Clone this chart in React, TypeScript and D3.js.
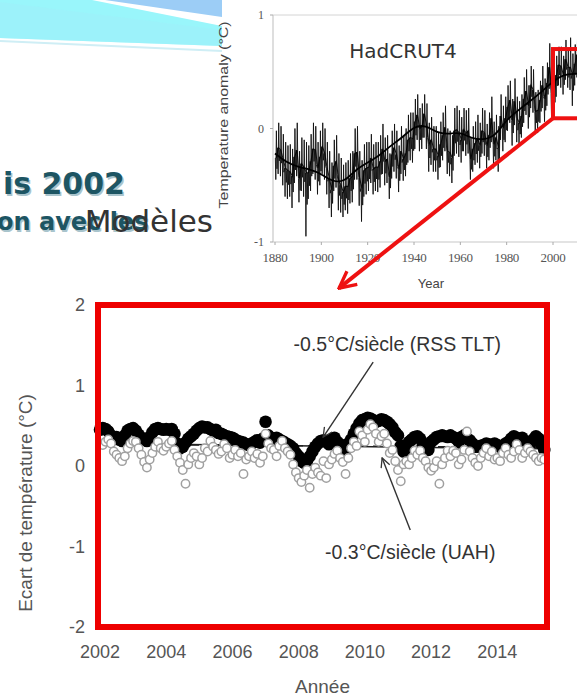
import React from "react";
import * as d3 from "d3";

// ---------- Main chart data (monthly, Jan 2002 – Jun 2015) ----------
const START_YEAR = 2002;
const rssMonthly = [
  0.45, 0.47, 0.46, 0.43, 0.38, 0.34, 0.36, 0.33, 0.31, 0.38, 0.44, 0.46,
  0.47, 0.44, 0.39, 0.35, 0.33, 0.31, 0.36, 0.42, 0.46, 0.47, 0.46, 0.45,
  0.46, 0.45, 0.46, 0.40, 0.28, 0.22, 0.24, 0.29, 0.34, 0.37, 0.40, 0.44,
  0.47, 0.49, 0.48, 0.48, 0.46, 0.44, 0.45, 0.41, 0.40, 0.38, 0.37, 0.36,
  0.35, 0.33, 0.31, 0.30, 0.29, 0.27, 0.26, 0.28, 0.30, 0.32, 0.29, 0.34,
  0.55, 0.38, 0.35, 0.33, 0.35, 0.33, 0.31, 0.29, 0.27, 0.25, 0.22, 0.16,
  0.12, 0.06, 0.04, 0.06, 0.12, 0.18, 0.24, 0.28, 0.31, 0.32, 0.30, 0.27,
  0.33, 0.35, 0.30, 0.27, 0.24, 0.20, 0.28, 0.33, 0.40, 0.47, 0.53, 0.57,
  0.58, 0.60, 0.59, 0.57, 0.55, 0.56, 0.58, 0.57, 0.55, 0.52, 0.48, 0.42,
  0.38, 0.25, 0.18, 0.22, 0.30, 0.33, 0.36, 0.37, 0.34, 0.25, 0.22, 0.20,
  0.30, 0.33, 0.36, 0.37, 0.38, 0.37, 0.36, 0.38, 0.36, 0.34, 0.30, 0.36,
  0.38, 0.34, 0.32, 0.28, 0.24, 0.24, 0.25, 0.26, 0.28, 0.27, 0.26, 0.28,
  0.26, 0.24, 0.25, 0.28, 0.30, 0.34, 0.37, 0.35, 0.33, 0.35, 0.30, 0.27,
  0.28, 0.33, 0.37, 0.34, 0.27, 0.20,
];
const uahMonthly = [
  0.28, 0.26, 0.30, 0.33, 0.28, 0.18, 0.14, 0.10, 0.06, 0.12, 0.22, 0.28,
  0.31, 0.30, 0.22, 0.14, 0.05, -0.02, 0.08, 0.16, 0.24, 0.30, 0.22, 0.19,
  0.24, 0.28, 0.31, 0.20, 0.12, 0.04, -0.05, -0.22, 0.02, 0.10, 0.16, 0.12,
  0.02, 0.10, 0.22, 0.18, 0.31, 0.24, 0.20, 0.15, 0.18, 0.27, 0.22, 0.10,
  0.14, 0.20, 0.12, 0.16, -0.10, 0.08, 0.12, 0.18, 0.10, 0.15, 0.04, 0.12,
  0.40, 0.28, 0.22, 0.20, 0.12, 0.25, 0.31, 0.22, 0.18, 0.14, 0.02, -0.08,
  -0.15, -0.20, -0.12, -0.05, -0.27, -0.10, -0.02, -0.08, -0.12, 0.06, -0.15, 0.02,
  0.08, 0.15, 0.19, 0.10, 0.05, -0.10, 0.10, 0.22, 0.30, 0.25, 0.43, 0.38,
  0.30, 0.45, 0.52, 0.48, 0.40, 0.30, 0.37, 0.40, 0.28, 0.16, 0.20, 0.06,
  -0.05, -0.19, 0.02, 0.06, 0.02, 0.10, 0.19, 0.14, 0.19, 0.10, 0.06, -0.02,
  -0.06, -0.02, 0.06, -0.22, 0.02, 0.10, 0.19, 0.12, 0.19, 0.16, 0.02, 0.08,
  0.20, 0.43, 0.18, 0.10, 0.04, 0.00, 0.10, 0.16, 0.22, 0.12, 0.18, 0.08,
  0.10, 0.06, 0.16, 0.22, 0.14, 0.10, 0.18, 0.27, 0.20, 0.10, 0.16, 0.22,
  0.18, 0.14, 0.10, 0.06, 0.10, 0.08,
];
const trendYears = [2002, 2015.5];
const rssTrend = [0.28, 0.213];
const uahTrend = [0.27, 0.23];
const xTickYears = [2002, 2004, 2006, 2008, 2010, 2012, 2014];
const yTickValues = [2, 1, 0, -1, -2];
const rssLabel = "-0.5°C/siècle (RSS TLT)";
const uahLabel = "-0.3°C/siècle (UAH)";
const xTitle = "Année";
const yTitle = "Ecart de température (°C)";

// ---------- Inset HadCRUT4 data (annual, 1880–2015) ----------
const HAD_START = 1880;
const hadMean = [
  -0.26, -0.17, -0.19, -0.27, -0.35, -0.37, -0.38, -0.42, -0.25, -0.19,
  -0.44, -0.31, -0.34, -0.39, -0.39, -0.29, -0.18, -0.19, -0.35, -0.25,
  -0.16, -0.22, -0.35, -0.44, -0.54, -0.33, -0.29, -0.46, -0.50, -0.56,
  -0.51, -0.51, -0.44, -0.42, -0.22, -0.21, -0.43, -0.53, -0.37, -0.35,
  -0.34, -0.26, -0.36, -0.34, -0.34, -0.29, -0.18, -0.29, -0.27, -0.43,
  -0.23, -0.17, -0.23, -0.36, -0.20, -0.27, -0.22, -0.10, -0.08, -0.09,
  0.06, 0.12, 0.00, 0.02, 0.13, 0.02, -0.14, -0.10, -0.18, -0.18,
  -0.24, -0.14, -0.06, 0.01, -0.20, -0.21, -0.26, -0.02, -0.01, -0.04,
  -0.10, -0.01, -0.04, -0.02, -0.27, -0.18, -0.13, -0.09, -0.15, -0.02,
  -0.04, -0.15, -0.06, 0.09, -0.14, -0.08, -0.17, 0.11, 0.00, 0.09,
  0.19, 0.25, 0.07, 0.24, 0.09, 0.05, 0.11, 0.26, 0.33, 0.20,
  0.38, 0.34, 0.15, 0.16, 0.25, 0.38, 0.26, 0.40, 0.54, 0.31,
  0.32, 0.47, 0.56, 0.55, 0.47, 0.61, 0.54, 0.54, 0.47, 0.57,
  0.65, 0.51, 0.55, 0.57, 0.61, 0.75,
];
const hadLow = [
  -0.45, -0.40, -0.42, -0.50, -0.60, -0.62, -0.60, -0.70, -0.48, -0.42,
  -0.65, -0.55, -0.60, -0.95, -0.62, -0.55, -0.40, -0.45, -0.58, -0.50,
  -0.40, -0.45, -0.58, -0.70, -0.78, -0.55, -0.52, -0.72, -0.74, -0.78,
  -0.72, -0.75, -0.66, -0.65, -0.45, -0.45, -0.68, -0.82, -0.60, -0.58,
  -0.55, -0.48, -0.58, -0.55, -0.56, -0.52, -0.40, -0.50, -0.48, -0.62,
  -0.44, -0.38, -0.44, -0.56, -0.40, -0.46, -0.42, -0.30, -0.28, -0.30,
  -0.18, -0.10, -0.20, -0.18, -0.08, -0.18, -0.38, -0.32, -0.38, -0.38,
  -0.45, -0.34, -0.28, -0.20, -0.40, -0.42, -0.48, -0.24, -0.22, -0.25,
  -0.30, -0.20, -0.24, -0.22, -0.45, -0.38, -0.32, -0.30, -0.35, -0.22,
  -0.24, -0.35, -0.28, -0.12, -0.35, -0.28, -0.38, -0.10, -0.20, -0.12,
  -0.02, 0.05, -0.15, 0.03, -0.12, -0.15, -0.08, 0.05, 0.12, 0.00,
  0.18, 0.14, -0.05, -0.04, 0.05, 0.18, 0.06, 0.20, 0.35, 0.12,
  0.14, 0.28, 0.38, 0.36, 0.30, 0.43, 0.36, 0.34, 0.20, 0.38,
  0.45, 0.32, 0.36, 0.40, 0.44, 0.55,
];
const hadHigh = [
  -0.02, 0.05, 0.02, -0.05, -0.12, -0.15, -0.14, -0.18, 0.00, 0.05,
  -0.20, -0.08, -0.10, -0.12, -0.15, -0.05, 0.05, 0.02, -0.12, -0.02,
  0.05, 0.00, -0.12, -0.20, -0.30, -0.10, -0.06, -0.22, -0.26, -0.32,
  -0.30, -0.28, -0.22, -0.20, 0.00, 0.02, -0.20, -0.28, -0.14, -0.12,
  -0.12, -0.05, -0.14, -0.12, -0.12, -0.06, 0.04, -0.08, -0.06, -0.22,
  -0.02, 0.04, -0.02, -0.15, 0.02, -0.06, 0.00, 0.12, 0.14, 0.14,
  0.26, 0.30, 0.18, 0.22, 0.30, 0.22, 0.05, 0.10, 0.02, 0.02,
  -0.04, 0.06, 0.14, 0.20, 0.00, -0.02, -0.06, 0.18, 0.20, 0.16,
  0.10, 0.18, 0.16, 0.18, -0.08, 0.02, 0.06, 0.12, 0.05, 0.18,
  0.16, 0.04, 0.14, 0.28, 0.06, 0.12, 0.02, 0.30, 0.20, 0.28,
  0.38, 0.42, 0.26, 0.44, 0.28, 0.24, 0.30, 0.45, 0.52, 0.38,
  0.55, 0.52, 0.32, 0.34, 0.42, 0.55, 0.44, 0.58, 0.75, 0.50,
  0.50, 0.64, 0.72, 0.72, 0.64, 0.78, 0.70, 0.80, 0.66, 0.74,
  0.82, 0.68, 0.72, 0.74, 0.78, 0.90,
];
const hadSmoothYears = [
  1880, 1885, 1890, 1895, 1900, 1905, 1910, 1915, 1920, 1925, 1930, 1935, 1940, 1945,
  1950, 1955, 1960, 1965, 1970, 1975, 1980, 1985, 1990, 1995, 2000, 2005, 2010, 2015,
];
const hadSmooth = [
  -0.22, -0.3, -0.34, -0.36, -0.4, -0.47, -0.47, -0.36, -0.3, -0.24, -0.15, -0.08, 0.02, 0.03,
  -0.04, -0.05, -0.03, -0.09, -0.1, -0.07, 0.08, 0.16, 0.24, 0.32, 0.42, 0.48, 0.48, 0.5,
];
const hadXTicks = [1880, 1900, 1920, 1940, 1960, 1980, 2000];
const hadYTicks = [1, 0, -1];
const hadZoomBox = { x0: 2000, x1: 2020, y0: 0.09, y1: 0.7 };

const SANS = "'Liberation Sans', Arial, sans-serif";
const DEJAVU = "'DejaVu Sans', Verdana, sans-serif";
const SERIF = "'Liberation Serif', 'DejaVu Serif', serif";

export default function App() {
  // main chart scales
  const x = d3.scaleLinear().domain([2001.94, 2015.5]).range([98, 547]);
  const y = d3.scaleLinear().domain([-2, 2]).range([627, 305]);
  const monthX = (i: number) => x(START_YEAR + i / 12);

  // inset scales
  const hx = d3.scaleLinear().domain([1880, 2000]).range([275, 553]);
  const hy = d3.scaleLinear().domain([-1, 1]).range([242, 15]);

  const zig: [number, number][] = [];
  hadLow.forEach((lo, i) => {
    const yr = HAD_START + i;
    zig.push([hx(yr + 0.15), hy(hadMean[i])]);
    zig.push([hx(yr + 0.35), hy(lo)]);
    zig.push([hx(yr + 0.6), hy(hadHigh[i])]);
    zig.push([hx(yr + 0.85), hy((hadMean[i] + lo) / 2)]);
  });
  const line = d3.line();
  const meanLine = d3.line<number>().x((_, i) => hx(HAD_START + i + 0.5)).y((d) => hy(d));
  const smoothLine = d3
    .line<number>()
    .x((_, i) => hx(hadSmoothYears[i]))
    .y((d) => hy(d))
    .curve(d3.curveBasis);

  const boxX = hx(hadZoomBox.x0);
  const boxY = hy(hadZoomBox.y1);
  const boxBottom = hy(hadZoomBox.y0);

  // red arrow tip in main-chart coordinates
  const redTip: [number, number] = [x(2009.22), y(2.21)];

  return (
    <svg
      width={577}
      height={698}
      style={{ position: "absolute", left: 0, top: 0, background: "#fff" }}
    >
      <defs>
        <marker id="ah" viewBox="0 0 12 12" refX="11" refY="6" markerWidth="11" markerHeight="11" orient="auto" markerUnits="userSpaceOnUse">
          <path d="M1,1 L11,6 L1,11" fill="none" stroke="#333" strokeWidth={1.4} />
        </marker>
        <marker id="ahr" viewBox="0 0 12 12" refX="11" refY="6" markerWidth="20" markerHeight="20" orient="auto" markerUnits="userSpaceOnUse">
          <path d="M1,1 L11,6 L1,11" fill="none" stroke="#ee1111" strokeWidth={2} />
        </marker>
        <clipPath id="insetClip">
          <rect x={273} y={0} width={304} height={300} />
        </clipPath>
      </defs>

      {/* slide decoration */}
      <polygon points="105,0 222,0 222,17" fill="#9ccdf6" />
      <polygon points="0,0 92,0 222,26 222,46 0,38" fill="#99f6fb" />
      <polygon points="0,2 222,30 222,46 0,38" fill="#9ff0fa" opacity={0.6} />
      <line x1={0} y1={41} x2={222} y2={51} stroke="#cfeef5" strokeWidth={2} />

      <text x={126.5} y={195.5} textAnchor="end" fontFamily={DEJAVU} fontWeight="bold" fontSize={30} fill="#a9c4cc">is 2002</text>
      <text x={125} y={194} textAnchor="end" fontFamily={DEJAVU} fontWeight="bold" fontSize={30} fill="#1d5563">is 2002</text>
      <text x={-1.5} y={231.5} fontFamily={DEJAVU} fontWeight="bold" fontSize={24} fill="#a9c4cc">on avec les</text>
      <text x={-3} y={230} fontFamily={DEJAVU} fontWeight="bold" fontSize={24} fill="#1d5563">on avec les</text>
      <text x={213} y={232} textAnchor="end" fontFamily={DEJAVU} fontSize={31} fill="#333">Modèles</text>

      {/* inset HadCRUT4 */}
      <rect x={222} y={0} width={355} height={298} fill="#fff" />
      <line x1={273} y1={15} x2={577} y2={15} stroke="#d4d4d4" strokeWidth={1} />
      <line x1={273} y1={15} x2={273} y2={242} stroke="#c8c8c8" strokeWidth={1.2} />
      <line x1={273} y1={242} x2={577} y2={242} stroke="#c8c8c8" strokeWidth={1.2} />
      {hadXTicks.map((t) => (
        <g key={t}>
          <line x1={hx(t)} x2={hx(t)} y1={242} y2={245} stroke="#aaa" />
          <text x={hx(t)} y={262} textAnchor="middle" fontFamily={SERIF} fontSize={13} fill="#555" letterSpacing={-0.3}>{t}</text>
        </g>
      ))}
      {hadYTicks.map((t) => (
        <g key={t}>
          <line x1={270} x2={273} y1={hy(t)} y2={hy(t)} stroke="#aaa" />
          <text x={264} y={hy(t) + 4} textAnchor="end" fontFamily={SERIF} fontSize={12} fill="#555">{t}</text>
        </g>
      ))}
      <text
        transform={`translate(228,${hy(0.12)}) rotate(-90)`}
        textAnchor="middle"
        fontFamily={SANS}
        fontSize={12}
        textLength={187}
        lengthAdjust="spacingAndGlyphs"
        fill="#444"
      >
        Temperature anomaly (°C)
      </text>
      <text x={431} y={288} textAnchor="middle" fontFamily={SANS} fontSize={13} fill="#444">Year</text>
      <text x={403} y={58} textAnchor="middle" fontFamily={DEJAVU} fontSize={20} fill="#333">HadCRUT4</text>
      <g clipPath="url(#insetClip)">
        <path d={line(zig) || ""} fill="none" stroke="#111" strokeWidth={1} opacity={0.9} />
        <path d={meanLine(hadMean) || ""} fill="none" stroke="#000" strokeWidth={1.1} opacity={0.85} />
        <path d={smoothLine(hadSmooth) || ""} fill="none" stroke="#000" strokeWidth={1.8} />
      </g>
      <rect x={boxX} y={boxY} width={60} height={boxBottom - boxY} fill="none" stroke="#ee1111" strokeWidth={4} />
      <line x1={boxX} y1={boxBottom} x2={redTip[0]} y2={redTip[1]} stroke="#ee1111" strokeWidth={4} markerEnd="url(#ahr)" />

      {/* main chart: trend lines */}
      <line x1={x(trendYears[0])} y1={y(rssTrend[0])} x2={x(trendYears[1])} y2={y(rssTrend[1])} stroke="#222" strokeWidth={1.5} />
      <line x1={x(trendYears[0])} y1={y(uahTrend[0])} x2={x(trendYears[1])} y2={y(uahTrend[1])} stroke="#222" strokeWidth={1.5} strokeDasharray="8,5" />

      {/* RSS filled circles */}
      {rssMonthly.map((v, i) => (
        <circle key={"r" + i} cx={monthX(i)} cy={y(v)} r={6.3} fill="#000" />
      ))}
      {/* UAH open circles */}
      {uahMonthly.map((v, i) => (
        <circle key={"u" + i} cx={monthX(i)} cy={y(v)} r={4.2} fill="#fff" stroke="#a0a0a0" strokeWidth={1.5} />
      ))}

      {/* frame */}
      <rect x={x(2001.94)} y={y(2)} width={x(2015.5) - x(2001.94)} height={y(-2) - y(2)} fill="none" stroke="#ee0000" strokeWidth={6} />

      {/* ticks */}
      {yTickValues.map((t) => (
        <text key={t} x={85} y={y(t) + 6} textAnchor="end" fontFamily={SANS} fontSize={18} fill="#555">{t}</text>
      ))}
      {xTickYears.map((t) => (
        <text key={t} x={x(t)} y={658} textAnchor="middle" fontFamily={SANS} fontSize={18} fill="#555">{t}</text>
      ))}
      <text x={(x(2001.94) + x(2015.5)) / 2} y={693} textAnchor="middle" fontFamily={SANS} fontSize={19} fill="#555">{xTitle}</text>
      <text transform={`translate(32,503) rotate(-90)`} textAnchor="middle" fontFamily={SANS} fontSize={19} fill="#555">{yTitle}</text>

      {/* annotations */}
      <text x={x(2010.98)} y={y(1.43)} textAnchor="middle" fontFamily={SANS} fontSize={19.5} fill="#333">{rssLabel}</text>
      <line x1={x(2010.25)} y1={y(1.29)} x2={x(2008.74)} y2={y(0.36)} stroke="#333" strokeWidth={1.4} markerEnd="url(#ah)" />
      <text x={x(2011.37)} y={y(-1.155)} textAnchor="middle" fontFamily={SANS} fontSize={19.5} fill="#333">{uahLabel}</text>
      <line x1={x(2011.37)} y1={y(-0.795)} x2={x(2010.52)} y2={y(0.1)} stroke="#333" strokeWidth={1.4} markerEnd="url(#ah)" />
    </svg>
  );
}
